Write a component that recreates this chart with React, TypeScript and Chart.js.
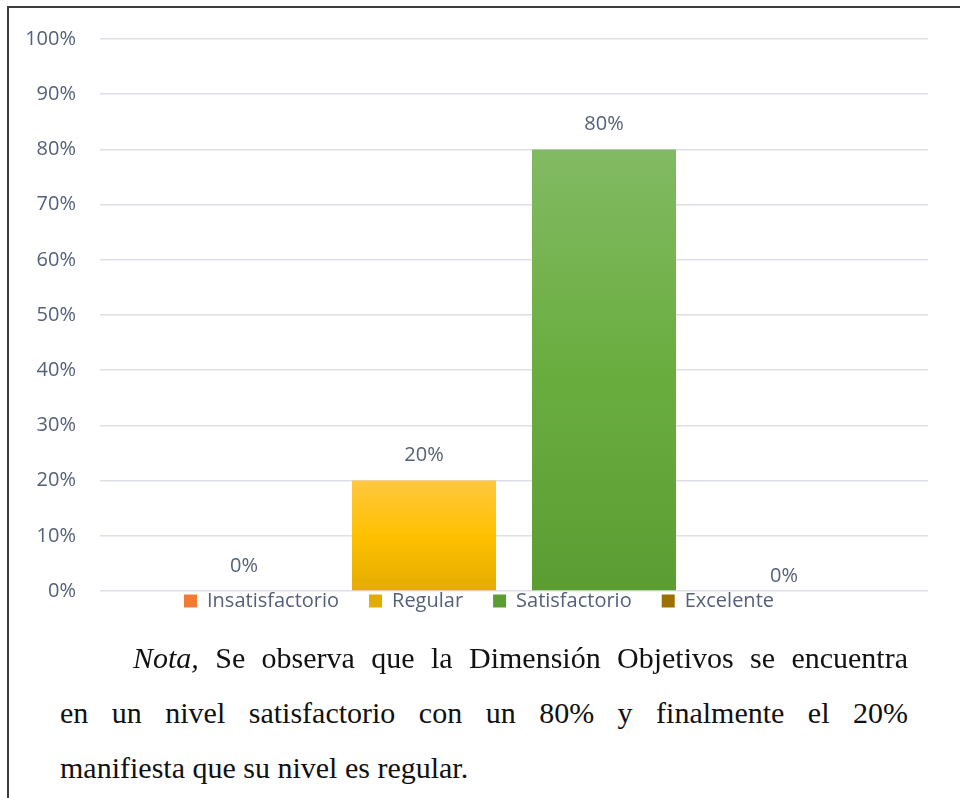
import React, { useEffect, useRef } from 'react';
import { Chart, registerables } from 'chart.js';

Chart.register(...registerables);

// ---- data ----
const categories = [''];
const seriesNames = ['Insatisfactorio', 'Regular', 'Satisfactorio', 'Excelente'];
const insatisfactorio = [0];
const regular = [20];
const satisfactorio = [80];
const excelente = [0];
const yMin = 0;
const yMax = 100;
const yStep = 10;

const TEXT = '#56607A';
const FONT = '"Open Sans", "Noto Sans", sans-serif';

type Stops = [number, string][];

function gradientFill(solid: string, stops: Stops) {
  return (ctx: any) => {
    if (ctx.type !== 'data') return solid;
    const chart = ctx.chart;
    const y = chart.scales && chart.scales.y;
    if (!chart.chartArea || !y) return solid;
    const v = ctx.raw as number;
    const top = y.getPixelForValue(v);
    const bottom = y.getPixelForValue(0);
    if (!isFinite(top) || !isFinite(bottom) || bottom - top < 1) return solid;
    const g = chart.ctx.createLinearGradient(0, top, 0, bottom);
    stops.forEach(([o, c]) => g.addColorStop(o, c));
    return g;
  };
}

const valueLabels = {
  id: 'valueLabels',
  afterDatasetsDraw(chart: any) {
    const ctx = chart.ctx;
    ctx.save();
    ctx.font = `20px ${FONT}`;
    ctx.fillStyle = TEXT;
    ctx.textAlign = 'center';
    ctx.textBaseline = 'middle';
    chart.data.datasets.forEach((ds: any, i: number) => {
      const meta = chart.getDatasetMeta(i);
      meta.data.forEach((el: any, j: number) => {
        const off = ds.labelOffset ?? 25;
        ctx.fillText(`${ds.data[j]}%`, el.x, el.y - off);
      });
    });
    ctx.restore();
  },
};

// lift the legend so it sits right under the axis line (as in the original)
const legendLift = {
  id: 'legendLift',
  afterLayout(chart: any) {
    const lg = chart.legend;
    if (!lg) return;
    const pad = lg.options.labels.padding;
    lg.top -= pad;
    lg.bottom -= pad;
    lg.left += pad / 2;
    lg.right += pad / 2;
  },
};

function BarChart() {
  const ref = useRef<HTMLCanvasElement | null>(null);
  useEffect(() => {
    if (!ref.current) return;
    const chart = new Chart(ref.current, {
      type: 'bar',
      data: {
        labels: categories,
        datasets: [
          {
            label: seriesNames[0],
            data: insatisfactorio,
            backgroundColor: gradientFill('#F07B35', [[0, '#F5A06A'], [0.5, '#ED7D31'], [1, '#D26A22']]),
            borderWidth: 0,
          },
          {
            label: seriesNames[1],
            data: regular,
            backgroundColor: gradientFill('#FFC52A', [[0, '#FFC83F'], [0.5, '#FFC000'], [1, '#E3AC00']]),
            borderWidth: 0,
          },
          {
            label: seriesNames[2],
            data: satisfactorio,
            backgroundColor: gradientFill('#6DAF45', [[0, '#82BA63'], [0.5, '#6AAD3F'], [1, '#5C9D33']]),
            borderWidth: 0,
          },
          {
            label: seriesNames[3],
            data: excelente,
            backgroundColor: gradientFill('#9A7000', [[0, '#B08A2A'], [0.5, '#997300'], [1, '#806000']]),
            borderWidth: 0,
            labelOffset: 15,
          } as any,
        ],
      },
      options: {
        animation: false,
        responsive: false,
        maintainAspectRatio: false,
        layout: { padding: { top: 39, right: 32, left: 0, bottom: 0 } },
        datasets: {
          bar: { categoryPercentage: 0.8696, barPercentage: 0.8 },
        },
        scales: {
          x: { display: false },
          y: {
            min: yMin,
            max: yMax,
            ticks: {
              stepSize: yStep,
              padding: 24,
              color: TEXT,
              font: { family: FONT, size: 20 },
              callback: (v: any) => `${v}%`,
            },
            grid: { color: '#DCE0E6', lineWidth: 1.5, drawTicks: false },
            border: { display: false },
            afterFit: (scale: any) => {
              scale.width = 100;
            },
          },
        },
        plugins: {
          legend: {
            position: 'bottom',
            labels: {
              color: TEXT,
              font: { family: FONT, size: 20 },
              boxWidth: 13,
              boxHeight: 13,
              padding: 30,
            },
          },
          tooltip: { enabled: false },
        },
      },
      plugins: [valueLabels, legendLift],
    });
    return () => chart.destroy();
  }, []);
  return (
    <canvas
      ref={ref}
      width={960}
      height={651}
      style={{ position: 'absolute', left: 0, top: 0, width: 960, height: 651 }}
    />
  );
}

const serif = '"Liberation Serif", "Times New Roman", serif';

export default function App() {
  const lineStyle: React.CSSProperties = {
    position: 'absolute',
    fontFamily: serif,
    fontSize: 30,
    lineHeight: '30px',
    color: '#111',
    whiteSpace: 'nowrap',
  };
  return (
    <div
      style={{
        position: 'fixed',
        left: 0,
        top: 0,
        width: 960,
        height: 798,
        background: '#fff',
        overflow: 'hidden',
      }}
    >
      <div
        style={{
          position: 'absolute',
          left: 7,
          top: 6,
          width: 980,
          height: 820,
          borderLeft: '2px solid #3c3c3c',
          borderTop: '2px solid #3c3c3c',
          boxSizing: 'border-box',
        }}
      />
      <BarChart />
      <div
        style={{
          ...lineStyle,
          left: 133,
          width: 775,
          top: 643,
          textAlign: 'justify',
          textAlignLast: 'justify',
          whiteSpace: 'normal',
        }}
      >
        <i>Nota,</i> Se observa que la Dimensión Objetivos se encuentra
      </div>
      <div
        style={{
          ...lineStyle,
          left: 60,
          width: 848,
          top: 698,
          textAlign: 'justify',
          textAlignLast: 'justify',
          whiteSpace: 'normal',
        }}
      >
        en un nivel satisfactorio con un 80% y finalmente el 20%
      </div>
      <div style={{ ...lineStyle, left: 60, top: 753 }}>
        manifiesta que su nivel es regular.
      </div>
    </div>
  );
}
